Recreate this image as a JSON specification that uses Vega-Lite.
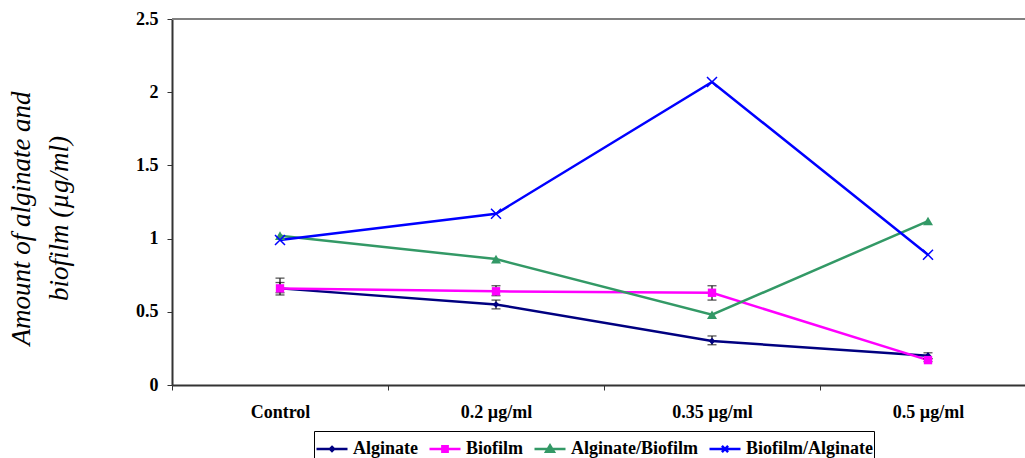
{
  "$schema": "https://vega.github.io/schema/vega-lite/v6.json",
  "width": 853,
  "height": 366,
  "autosize": {"type": "none"},
  "padding": {"left": 172, "top": 19, "right": 0, "bottom": 73},
  "background": "white",
  "config": {"view": {"stroke": null}, "font": "Liberation Serif"},
  "data": {
    "values": [
      {"dose": "Control", "series": "Alginate", "value": 0.66, "lo": 0.63, "hi": 0.70},
      {"dose": "0.2 µg/ml", "series": "Alginate", "value": 0.55, "lo": 0.52, "hi": 0.58},
      {"dose": "0.35 µg/ml", "series": "Alginate", "value": 0.30, "lo": 0.275, "hi": 0.335},
      {"dose": "0.5 µg/ml", "series": "Alginate", "value": 0.20, "lo": 0.18, "hi": 0.22},
      {"dose": "Control", "series": "Biofilm", "value": 0.66, "lo": 0.615, "hi": 0.73},
      {"dose": "0.2 µg/ml", "series": "Biofilm", "value": 0.64, "lo": 0.61, "hi": 0.678},
      {"dose": "0.35 µg/ml", "series": "Biofilm", "value": 0.63, "lo": 0.58, "hi": 0.678},
      {"dose": "0.5 µg/ml", "series": "Biofilm", "value": 0.17, "lo": 0.16, "hi": 0.18},
      {"dose": "Control", "series": "Alginate/Biofilm", "value": 1.02},
      {"dose": "0.2 µg/ml", "series": "Alginate/Biofilm", "value": 0.86},
      {"dose": "0.35 µg/ml", "series": "Alginate/Biofilm", "value": 0.48},
      {"dose": "0.5 µg/ml", "series": "Alginate/Biofilm", "value": 1.12},
      {"dose": "Control", "series": "Biofilm/Alginate", "value": 0.99},
      {"dose": "0.2 µg/ml", "series": "Biofilm/Alginate", "value": 1.17},
      {"dose": "0.35 µg/ml", "series": "Biofilm/Alginate", "value": 2.07},
      {"dose": "0.5 µg/ml", "series": "Biofilm/Alginate", "value": 0.89}
    ]
  },
  "layer": [
    {
      "mark": {"type": "line", "strokeWidth": 2.5},
      "encoding": {
        "x": {
          "field": "dose", "type": "nominal",
          "sort": ["Control", "0.2 µg/ml", "0.35 µg/ml", "0.5 µg/ml"],
          "scale": {"type": "band", "range": [0, 864], "paddingInner": 0, "paddingOuter": 0},
          "axis": {
            "title": null, "labelAngle": 0, "labelFont": "Liberation Serif", "labelFontWeight": "bold",
            "labelFontSize": 18, "labelColor": "black", "labelPadding": 13, "labelBaseline": "top",
            "tickBand": "extent", "tickSize": 5, "tickColor": "#333333", "tickWidth": 1,
            "domainColor": "#333333", "domainWidth": 2, "grid": false
          }
        },
        "y": {
          "field": "value", "type": "quantitative",
          "scale": {"domain": [0, 2.5], "nice": false, "zero": true},
          "axis": {
            "values": [0, 0.5, 1, 1.5, 2, 2.5], "format": ".1~f", "grid": false,
            "labelFont": "Liberation Serif", "labelFontWeight": "bold", "labelFontSize": 18, "labelColor": "black",
            "labelPadding": 9, "tickSize": 5, "tickColor": "#333333", "tickWidth": 1,
            "domainColor": "#333333", "domainWidth": 2,
            "title": ["Amount of alginate and", "biofilm (µg/ml)"],
            "titleFont": "Liberation Serif", "titleFontStyle": "italic", "titleFontWeight": "normal",
            "titleFontSize": 27, "titleColor": "black", "titleAngle": -90,
            "titleX": -143, "titleY": 199, "titleAlign": "center", "titleBaseline": "alphabetic", "titleLineHeight": 38
          }
        },
        "color": {
          "field": "series", "type": "nominal",
          "scale": {"domain": ["Alginate", "Biofilm", "Alginate/Biofilm", "Biofilm/Alginate"], "range": ["#000080", "#FF00FF", "#339966", "#0000FF"]},
          "legend": {
            "title": null, "orient": "none", "direction": "horizontal", "legendX": 142, "legendY": 412,
            "labelFont": "Liberation Serif", "labelFontWeight": "bold", "labelFontSize": 18, "labelColor": "black",
            "labelOffset": 4, "columnPadding": 6, "padding": 1, "strokeColor": "black", "fillColor": "white",
            "symbolSize": 961, "symbolStrokeWidth": 2.5, "labelLimit": 300,
            "encode": {
              "symbols": {
                "update": {
                  "shape": {"signal": "datum.value === 'Alginate' ? 'M-1,0H1M0,-0.13L0.13,0L0,0.13L-0.13,0Z' : datum.value === 'Biofilm' ? 'M-1,0H1M-0.17,-0.17H0.17V0.17H-0.17Z' : datum.value === 'Alginate/Biofilm' ? 'M-1,0H1M0,-0.24L0.25,0.17H-0.25Z' : 'M-1,0H1M-0.2,-0.2L0.2,0.2M-0.2,0.2L0.2,-0.2'"},
                  "stroke": {"scale": "color", "field": "value"},
                  "fill": {"scale": "color", "field": "value"},
                  "strokeWidth": {"value": 2.5},
                  "opacity": {"value": 1}
                }
              }
            }
          }
        }
      }
    },
    {
      "mark": {"type": "rule", "color": "#808080", "strokeWidth": 2},
      "encoding": {
        "y": {"datum": 2.5, "type": "quantitative"}
      }
    },
    {
      "transform": [{"filter": "isValid(datum.lo)"}],
      "mark": {"type": "rule", "color": "#111111", "strokeWidth": 1.2},
      "encoding": {
        "x": {"field": "dose", "type": "nominal", "sort": ["Control", "0.2 µg/ml", "0.35 µg/ml", "0.5 µg/ml"]},
        "y": {"field": "lo", "type": "quantitative"},
        "y2": {"field": "hi"}
      }
    },
    {
      "transform": [{"filter": "isValid(datum.lo)"}],
      "mark": {"type": "tick", "color": "#111111", "thickness": 1.3, "size": 9},
      "encoding": {
        "x": {"field": "dose", "type": "nominal", "sort": ["Control", "0.2 µg/ml", "0.35 µg/ml", "0.5 µg/ml"]},
        "y": {"field": "lo", "type": "quantitative"}
      }
    },
    {
      "transform": [{"filter": "isValid(datum.hi)"}],
      "mark": {"type": "tick", "color": "#111111", "thickness": 1.3, "size": 9},
      "encoding": {
        "x": {"field": "dose", "type": "nominal", "sort": ["Control", "0.2 µg/ml", "0.35 µg/ml", "0.5 µg/ml"]},
        "y": {"field": "hi", "type": "quantitative"}
      }
    },
    {
      "transform": [{"filter": "datum.series === 'Alginate'"}],
      "mark": {"type": "point", "shape": "diamond", "filled": true, "size": 45, "color": "#000080", "opacity": 1},
      "encoding": {
        "x": {"field": "dose", "type": "nominal", "sort": ["Control", "0.2 µg/ml", "0.35 µg/ml", "0.5 µg/ml"]},
        "y": {"field": "value", "type": "quantitative"}
      }
    },
    {
      "transform": [{"filter": "datum.series === 'Biofilm'"}],
      "mark": {"type": "point", "shape": "square", "filled": true, "size": 70, "color": "#FF00FF", "opacity": 1},
      "encoding": {
        "x": {"field": "dose", "type": "nominal", "sort": ["Control", "0.2 µg/ml", "0.35 µg/ml", "0.5 µg/ml"]},
        "y": {"field": "value", "type": "quantitative"}
      }
    },
    {
      "transform": [{"filter": "datum.series === 'Alginate/Biofilm'"}],
      "mark": {"type": "point", "shape": "triangle-up", "filled": true, "size": 100, "color": "#339966", "opacity": 1},
      "encoding": {
        "x": {"field": "dose", "type": "nominal", "sort": ["Control", "0.2 µg/ml", "0.35 µg/ml", "0.5 µg/ml"]},
        "y": {"field": "value", "type": "quantitative"}
      }
    },
    {
      "transform": [{"filter": "datum.series === 'Biofilm/Alginate'"}],
      "mark": {"type": "point", "shape": "M-1,-1L1,1M-1,1L1,-1", "filled": false, "size": 100, "color": "#0000FF", "strokeWidth": 1.5, "opacity": 1},
      "encoding": {
        "x": {"field": "dose", "type": "nominal", "sort": ["Control", "0.2 µg/ml", "0.35 µg/ml", "0.5 µg/ml"]},
        "y": {"field": "value", "type": "quantitative"}
      }
    }
  ]
}
